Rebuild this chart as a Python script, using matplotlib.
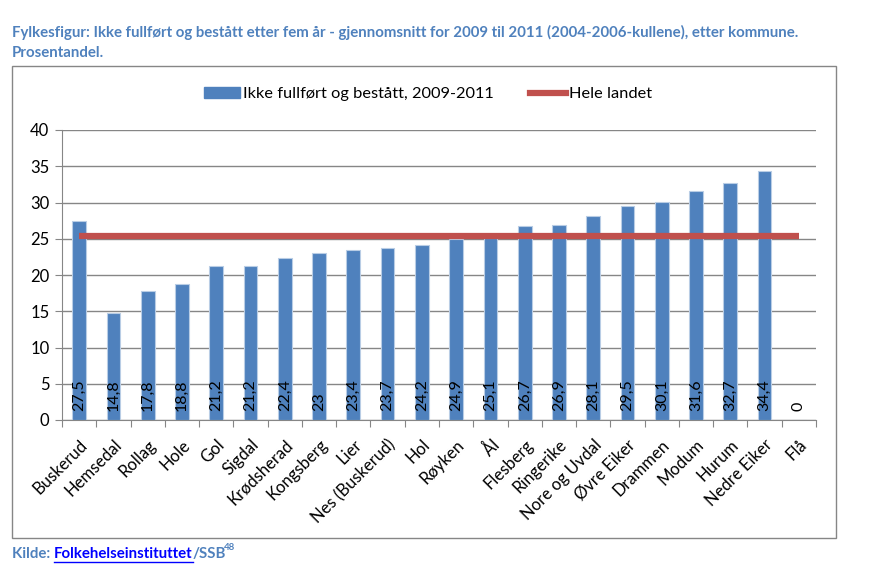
import numpy as np
import matplotlib.pyplot as plt
from matplotlib.patches import Rectangle
from matplotlib.lines import Line2D

plt.rcParams['font.family'] = ['Lato', 'DejaVu Sans']

# Data
kommuner = ['Buskerud', 'Hemsedal', 'Rollag', 'Hole', 'Gol', 'Sigdal', 'Krødsherad',
            'Kongsberg', 'Lier', 'Nes (Buskerud)', 'Hol', 'Røyken', 'Ål', 'Flesberg',
            'Ringerike', 'Nore og Uvdal', 'Øvre Eiker', 'Drammen', 'Modum', 'Hurum',
            'Nedre Eiker', 'Flå']
verdier = [27.5, 14.8, 17.8, 18.8, 21.2, 21.2, 22.4, 23, 23.4, 23.7, 24.2, 24.9,
           25.1, 26.7, 26.9, 28.1, 29.5, 30.1, 31.6, 32.7, 34.4, 0]
hele_landet = [25.4] * len(kommuner)
labels = ['27,5', '14,8', '17,8', '18,8', '21,2', '21,2', '22,4', '23', '23,4', '23,7',
          '24,2', '24,9', '25,1', '26,7', '26,9', '28,1', '29,5', '30,1', '31,6', '32,7',
          '34,4', '0']

W, H = 876, 583
fig = plt.figure(figsize=(W / 100, H / 100), dpi=100)

# outer chart frame
fig.patches.append(Rectangle((12 / W, 1 - 538 / H), (836 - 12) / W, (538 - 66) / H,
                             transform=fig.transFigure, fill=False,
                             edgecolor='#868686', lw=1))

ax = fig.add_axes([62 / W, 1 - 420 / H, (816 - 62) / W, (420 - 130) / H])
x = np.arange(len(kommuner))
grid_c = '#868686'

ax.bar(x, verdier, width=0.4, color='#4F81BD', edgecolor='#B9CDE5', lw=0.8, zorder=2)
ax.plot(x, hele_landet, color='#C0504D', lw=4.5, zorder=3, solid_capstyle='butt')

for xi, lab in zip(x, labels):
    ax.text(xi, 1.3, lab, rotation=90, ha='center', va='bottom', fontsize=11.5,
            color='black', zorder=4)

ax.set_xlim(-0.5, len(kommuner) - 0.5)
ax.set_ylim(0, 40)
ax.set_yticks(range(0, 41, 5))
ax.yaxis.grid(True, color=grid_c, lw=1)
ax.set_axisbelow(True)
for s in ['top', 'right']:
    ax.spines[s].set_visible(False)
for s in ['left', 'bottom']:
    ax.spines[s].set_color(grid_c)
ax.tick_params(axis='y', length=5, color=grid_c, labelsize=12, pad=4)

ax.set_xticks(np.arange(-0.5, len(kommuner)), minor=False)
ax.set_xticklabels([])
ax.set_xticks(x, minor=True)
ax.set_xticklabels(kommuner, minor=True, rotation=45, ha='right',
                   rotation_mode='anchor', fontsize=12)
ax.tick_params(axis='x', which='major', length=5, color=grid_c)
ax.tick_params(axis='x', which='minor', length=0, pad=12)

# legend
handles = [Rectangle((0, 0), 1, 1, color='#4F81BD'),
           Line2D([0], [0], color='#C0504D', lw=4.5)]
fig.legend(handles, ['Ikke fullført og bestått, 2009-2011', 'Hele landet'],
           loc='center', bbox_to_anchor=(428 / W, 1 - 94 / H), ncol=2, frameon=False,
           fontsize=11.8, handlelength=2.2, handletextpad=0.2, columnspacing=2.2)

# title
tc = '#4F81BD'
fs = 10.8
fig.text(12 / W, 1 - 32 / H, 'Fylkesfigur: Ikke fullført og bestått etter fem år - '
         'gjennomsnitt for 2009 til 2011 (2004-2006-kullene), etter kommune.',
         fontsize=fs, fontweight='bold', color=tc, va='center')
fig.text(12 / W, 1 - 53 / H, 'Prosentandel.', fontsize=fs, fontweight='bold',
         color=tc, va='center')

# source
t1 = fig.text(12 / W, 1 - 554 / H, 'Kilde: ', fontsize=fs, fontweight='bold',
              color=tc, va='center')
fig.canvas.draw()
r = fig.canvas.get_renderer()
bb = t1.get_window_extent(r)
t2 = fig.text(bb.x1 / W, 1 - 554 / H, 'Folkehelseinstituttet', fontsize=fs,
              fontweight='bold', color='#0000FF', va='center')
bb2 = t2.get_window_extent(r)
fig.lines.append(Line2D([bb2.x0 / W, bb2.x1 / W], [(bb2.y0 - 1) / H, (bb2.y0 - 1) / H],
                        transform=fig.transFigure, color='#0000FF', lw=1))
t3 = fig.text(bb2.x1 / W, 1 - 554 / H, '/SSB', fontsize=fs, fontweight='bold',
              color=tc, va='center')
bb3 = t3.get_window_extent(r)
fig.text(bb3.x1 / W - 0.002, 1 - 547 / H, '48', fontsize=7, fontweight='bold',
         color=tc, va='center')

fig.savefig('out.png', dpi=100)
